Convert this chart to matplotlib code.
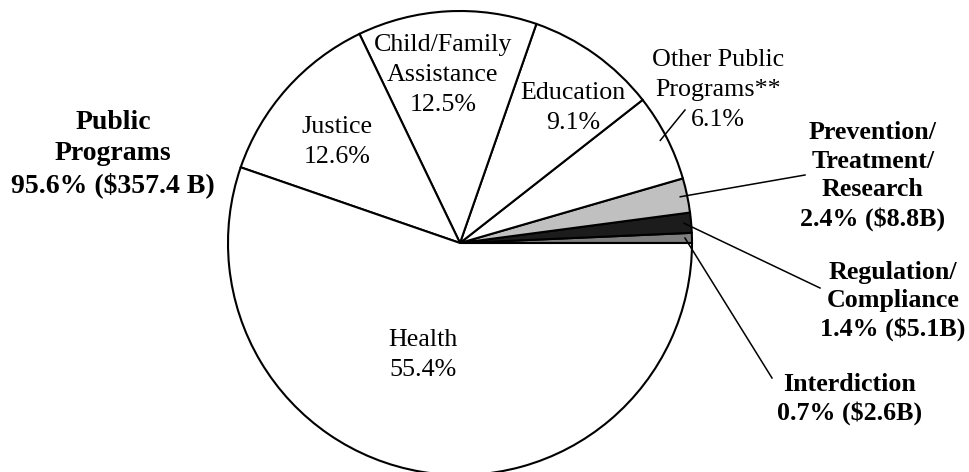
import numpy as np
import matplotlib.pyplot as plt

# slices counterclockwise from 3 o'clock
categories = ['Interdiction', 'Regulation/Compliance', 'Prevention/Treatment/Research',
              'Other Public Programs**', 'Education', 'Child/Family Assistance',
              'Justice', 'Health']
shares = [0.7, 1.4, 2.4, 6.1, 9.1, 12.5, 12.6, 55.4]
colors = ['#808080', '#1c1c1c', '#c0c0c0', 'white', 'white', 'white', 'white', 'white']

inner_labels = {
    'Other Public Programs**': 'Other Public\nPrograms**\n6.1%',
    'Education': 'Education\n9.1%',
    'Child/Family Assistance': 'Child/Family\nAssistance\n12.5%',
    'Justice': 'Justice\n12.6%',
    'Health': 'Health\n55.4%',
}
outer_labels = {
    'Prevention/Treatment/Research': 'Prevention/\nTreatment/\nResearch\n2.4% ($8.8B)',
    'Regulation/Compliance': 'Regulation/\nCompliance\n1.4% ($5.1B)',
    'Interdiction': 'Interdiction\n0.7% ($2.6B)',
}
public_label = 'Public\nPrograms\n95.6% ($357.4 B)'

FONT = 'Liberation Serif'

fig = plt.figure(figsize=(9.7, 4.72), dpi=100)
ax = fig.add_axes([0, 0, 1, 1])

cx, cy, r = 460, 243, 232
wedges, _ = ax.pie(shares, colors=colors, startangle=0, counterclock=False,
                   center=(cx, cy), radius=r, frame=True,
                   wedgeprops=dict(edgecolor='black', linewidth=1.5))
# pixel-like coords, y down
ax.set_xlim(0, 970)
ax.set_ylim(472, 0)
ax.set_aspect('equal')
ax.axis('off')

# label positions (pixel coords)
inner_pos = {
    'Other Public Programs**': (718, 90),
    'Education': (573, 108),
    'Child/Family Assistance': (443, 75),
    'Justice': (337, 142),
    'Health': (423, 355),
}
outer_pos = {
    'Prevention/Treatment/Research': (873, 176),
    'Regulation/Compliance': (893, 301),
    'Interdiction': (850, 399),
}
line_end = {
    'Prevention/Treatment/Research': (805, 175),
    'Regulation/Compliance': (820, 288),
    'Interdiction': (772, 378),
    'Other Public Programs**': (685, 110),
}

for w, name in zip(wedges, categories):
    mid = np.deg2rad((w.theta1 + w.theta2) / 2)
    px = cx + 0.97 * r * np.cos(mid)
    py = cy + 0.97 * r * np.sin(mid)
    if name in line_end:
        ex, ey = line_end[name]
        ax.plot([px, ex], [py, ey], color='black', lw=1.1)
    if name in inner_labels:
        x, y = inner_pos[name]
        ax.text(x, y, inner_labels[name], ha='center', va='center', fontsize=18.7,
                family=FONT, linespacing=1.45)
    if name in outer_labels:
        x, y = outer_pos[name]
        ax.text(x, y, outer_labels[name], ha='center', va='center', fontsize=18.7,
                family=FONT, fontweight='bold', linespacing=1.3)

ax.text(113, 154, public_label, ha='center', va='center', fontsize=20,
        family=FONT, fontweight='bold', linespacing=1.3)

fig.savefig('out.png', dpi=100)
